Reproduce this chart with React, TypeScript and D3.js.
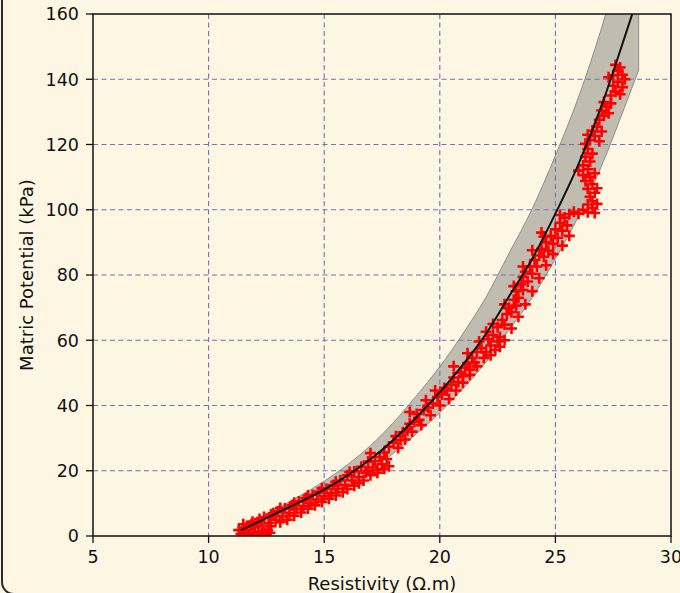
import React, { useEffect } from "react";
import * as d3 from "d3";

// Fitted curve
const curveX = [11.4, 12, 13, 14, 15, 16, 17, 18, 19, 20, 21, 22, 23, 24, 25, 26, 27, 28, 28.6];
const curveY = [1.8, 3.8, 7.2, 10.6, 14.2, 18.5, 23.5, 29.5, 36.5, 44, 52.5, 62, 73.5, 85, 98.8, 114, 132, 153, 166];
const bandUpper = [2.1, 4.5, 8.5, 12.5, 16.8, 21.8, 27.7, 34.8, 43.1, 51.9, 62.0, 73.2, 86.7, 100.3, 116.6, 134.5, 155.8, 180.5, 195.9];
const bandLower = [1.5, 3.3, 6.2, 9.1, 12.2, 15.9, 20.2, 25.4, 31.4, 37.8, 45.2, 53.3, 63.2, 73.1, 85.0, 98.0, 113.5, 131.6, 142.8];

// Measurements
const measX = [
  11.3, 11.4, 11.5, 11.55, 11.65, 11.7, 11.8, 11.85, 11.95, 12.0, 12.1, 12.15, 12.25, 12.3, 12.4, 12.5, 12.55, 12.65,
  12.4, 12.7, 13.0, 13.3, 13.6, 13.9, 14.2, 14.5, 14.8, 15.1, 15.4, 15.7, 16.0, 16.3, 16.6, 16.9,
  12.6, 12.9, 13.2, 13.5, 13.8, 14.1, 14.4, 14.7, 15.0, 15.3, 15.6, 15.9, 16.2, 16.5, 16.8,
  13.4, 14.0, 14.6, 15.2, 15.8, 16.3, 16.7,
  11.5, 11.9, 12.2, 12.8, 13.1, 13.7, 14.3, 14.9, 15.5, 16.1,
  12.7, 13.1, 13.7, 14.3, 14.9, 15.5, 16.0, 16.5, 17.0, 17.3,
  16.9, 17.1, 17.3, 17.5, 17.6, 17.7, 17.4, 17.2, 17.8, 17.0, 17.6,
  17.8, 18.0, 18.1, 18.3, 18.4, 18.6, 18.7, 18.9, 18.7, 19.0, 19.1, 19.3, 19.5, 19.4, 19.7, 19.9, 19.8, 20.1, 20.2,
  18.2, 18.5, 18.8, 19.2, 19.6, 20.0, 20.4, 20.7, 21.0, 21.3, 21.6, 21.9, 22.2,
  20.3, 20.5, 20.6, 20.8, 20.9, 21.0, 21.1, 21.2, 21.3, 21.4, 21.5, 21.6,
  20.6, 21.2, 21.7,
  21.8, 22.0, 22.2, 22.4, 22.5, 22.6, 22.1, 22.3, 22.0, 22.6,
  22.5, 22.7, 22.8, 22.9, 23.0, 23.1, 23.2, 23.3, 23.3, 23.4, 23.5, 23.6, 23.6, 23.7, 23.8, 23.9, 24.0, 24.1, 24.2, 24.3,
  22.8, 23.1, 23.4, 23.7, 24.0, 24.3, 24.6, 24.9, 22.3, 22.8, 23.2, 23.6, 24.0, 24.4,
  24.4, 24.5, 24.6, 24.7, 24.8, 24.9, 25.0, 25.1, 25.2, 25.3, 25.4, 25.5, 24.5, 25.2, 25.3, 25.6,
  25.6, 25.8, 26.0, 26.2, 26.4, 26.6, 26.7,
  26.4, 26.6, 26.8, 26.5, 26.7, 26.4, 26.6, 26.8, 26.3, 26.5, 26.7, 26.4, 26.2, 26.5, 26.3, 26.6, 26.4, 26.2, 26.0,
  26.3, 26.5, 26.7, 26.9, 26.6, 26.8, 27.0, 26.4,
  26.9, 27.1, 27.0, 27.2, 27.3, 27.1, 27.4,
  27.4, 27.6, 27.8, 27.5, 27.7, 27.9, 28.0,
  27.5, 27.7, 27.9, 27.6, 27.8, 27.3,
];
const measY = [
  1.8, 0.6, 2.6, 1.2, 3.0, 0.4, 1.8, 3.6, 0.8, 2.6, 4.2, 1.4, 0.4, 3.2, 1.2, 0.6, 1.8, 1.0,
  5.8, 6.6, 7.6, 8.4, 9.4, 10.6, 11.6, 12.6, 13.6, 14.4, 15.6, 17.0, 18.6, 19.8, 21.2, 22.8,
  4.0, 5.0, 6.0, 7.0, 8.2, 9.2, 10.2, 11.2, 12.2, 13.2, 14.4, 15.6, 17.0, 18.0, 19.4,
  5.0, 7.2, 9.4, 11.4, 13.4, 15.4, 17.0,
  3.6, 4.4, 5.2, 7.0, 8.6, 10.2, 12.4, 14.6, 16.6, 19.6,
  3.0, 4.2, 6.2, 8.4, 10.4, 12.4, 14.4, 16.2, 18.6, 19.4,
  20.0, 21.0, 20.2, 22.0, 20.6, 23.6, 24.2, 23.0, 21.4, 25.4, 25.6,
  27.4, 28.6, 30.6, 29.4, 31.8, 32.4, 34.4, 35.0, 38.0, 37.4, 35.6, 38.6, 39.4, 41.6, 40.6, 42.6, 44.6, 43.4, 45.4,
  27.0, 29.6, 32.0, 34.0, 37.0, 40.0, 42.0, 44.6, 47.0, 49.4, 52.0, 54.6, 55.4,
  44.6, 46.4, 48.6, 47.2, 50.0, 49.0, 51.6, 53.0, 51.0, 54.6, 53.2, 56.4,
  52.0, 56.0, 59.6,
  57.6, 56.4, 58.4, 57.0, 59.6, 58.0, 60.4, 61.6, 62.6, 61.0,
  64.0, 66.2, 64.8, 68.0, 70.0, 68.6, 72.4, 70.6, 75.0, 73.0, 77.2, 75.4, 79.4, 81.0, 78.0, 82.6, 80.4, 84.6, 82.6, 86.0,
  60.0, 63.6, 67.2, 71.0, 75.0, 79.0, 83.0, 86.4, 65.0, 71.0, 76.6, 82.6, 87.6, 93.0,
  88.0, 85.6, 90.0, 87.4, 92.0, 89.6, 94.0, 91.4, 96.0, 93.6, 97.6, 95.2, 91.8, 98.4, 89.0, 92.0,
  98.6, 99.4, 98.8, 100.0, 99.2, 100.6, 99.0,
  101.6, 102.6, 101.8, 104.0, 105.2, 106.4, 107.8, 106.6, 108.8, 110.0, 111.2, 112.4, 113.6, 114.8, 116.2, 117.2, 118.6, 110.6, 112.0,
  120.2, 121.4, 122.6, 121.0, 124.2, 125.4, 124.0, 123.0,
  127.6, 128.8, 130.4, 131.6, 129.6, 133.0, 132.6,
  135.0, 136.2, 135.4, 138.0, 139.2, 137.6, 140.0,
  141.2, 142.6, 141.4, 144.4, 143.6, 140.6,
];

const xTicks = [5, 10, 15, 20, 25, 30];
const yTicks = [0, 20, 40, 60, 80, 100, 120, 140, 160];

const W = 680;
const H = 593;
const left = 93, right = 671, top = 14, bottom = 536;
const FONT = "DejaVu Sans, sans-serif";

export default function App() {
  useEffect(() => {
    document.body.style.margin = "0";
  }, []);

  const x = d3.scaleLinear().domain([5, 30]).range([left, right]);
  const y = d3.scaleLinear().domain([0, 160]).range([bottom, top]);

  const idx = curveX.map((_, i) => i);
  const line = d3
    .line<number>()
    .x((i) => x(curveX[i]))
    .y((i) => y(curveY[i]))
    .curve(d3.curveMonotoneX);
  const area = d3
    .area<number>()
    .x((i) => x(curveX[i]))
    .y0((i) => y(bandLower[i]))
    .y1((i) => y(bandUpper[i]))
    .curve(d3.curveMonotoneX);

  const bg = "#fdf6e3";
  const gridColor = "#6e73b3";

  return (
    <svg width={W} height={H} style={{ display: "block", position: "absolute", left: 0, top: 0 }}>
      <rect x={0} y={0} width={W} height={H} fill={bg} />
      <rect x={2} y={-30} width={800} height={624} rx={12} fill="none" stroke="#2a2a2a" strokeWidth={2} />
      <defs>
        <clipPath id="plotclip">
          <rect x={left} y={top} width={right - left} height={bottom - top} />
        </clipPath>
      </defs>
      <g clipPath="url(#plotclip)">
        <path d={area(idx) || ""} fill="#807e7a" fillOpacity={0.48} stroke="#8c8c8c" strokeWidth={1} />
      </g>
      {/* grid */}
      <g>
        {xTicks.slice(1, -1).map((t) => (
          <line key={"gx" + t} x1={x(t)} x2={x(t)} y1={top} y2={bottom} stroke={gridColor} strokeWidth={1.1} strokeDasharray="5,3.5" />
        ))}
        {yTicks.slice(1, -1).map((t) => (
          <line key={"gy" + t} x1={left} x2={right} y1={y(t)} y2={y(t)} stroke={gridColor} strokeWidth={1.1} strokeDasharray="5,3.5" />
        ))}
      </g>
      <g clipPath="url(#plotclip)">
        {measX.map((mx, i) => (
          <path
            key={"m" + i}
            transform={`translate(${x(mx)},${y(measY[i])})`}
            d="M-5.5,0H5.5M0,-5.5V5.5"
            stroke="#ff0000"
            strokeWidth={2.6}
            fill="none"
          />
        ))}
        <path d={line(idx) || ""} fill="none" stroke="#111" strokeWidth={2} />
      </g>
      {/* spines */}
      <rect x={left} y={top} width={right - left} height={bottom - top} fill="none" stroke="#111" strokeWidth={1.5} />
      {/* ticks */}
      {xTicks.map((t) => (
        <g key={"xt" + t}>
          <line x1={x(t)} x2={x(t)} y1={bottom} y2={bottom + 7} stroke="#111" strokeWidth={1.3} />
          <text x={x(t)} y={563} textAnchor="middle" fontFamily={FONT} fontSize={17.5} fill="#111">
            {t}
          </text>
        </g>
      ))}
      {yTicks.map((t) => (
        <g key={"yt" + t}>
          <line x1={left - 7} x2={left} y1={y(t)} y2={y(t)} stroke="#111" strokeWidth={1.3} />
          <text x={79} y={y(t)} dy="0.36em" textAnchor="end" fontFamily={FONT} fontSize={17.5} fill="#111">
            {t}
          </text>
        </g>
      ))}
      <text x={(left + right) / 2} y={590} textAnchor="middle" fontFamily={FONT} fontSize={18} fill="#111">
        Resistivity (Ω.m)
      </text>
      <text
        transform={`translate(33,${(top + bottom) / 2}) rotate(-90)`}
        textAnchor="middle"
        fontFamily={FONT}
        fontSize={18}
        fill="#111"
      >
        Matric Potential (kPa)
      </text>
    </svg>
  );
}
